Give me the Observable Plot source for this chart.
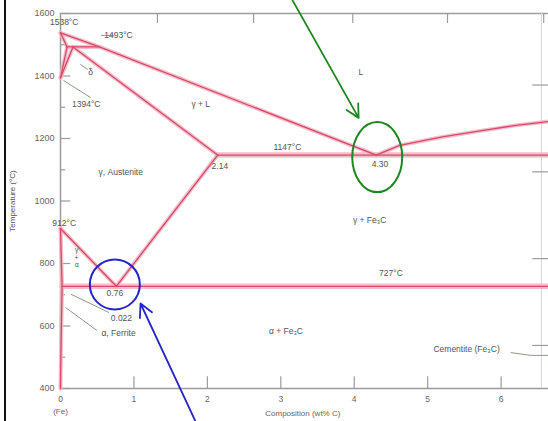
<!DOCTYPE html>
<html>
<head>
<meta charset="utf-8">
<script src="https://cdn.jsdelivr.net/npm/d3@7"></script>
<script src="https://cdn.jsdelivr.net/npm/@observablehq/plot@0.6"></script>
<style>
  html, body { margin: 0; padding: 0; background: #fff; overflow: hidden; }
  #wrap { position: relative; width: 548px; height: 421px; }
  #wrap::before { content: ""; position: absolute; left: 4px; top: 0; width: 2px; height: 421px; background: #111; }
  svg { display: block; font-family: "Liberation Sans", "DejaVu Sans", sans-serif; }
</style>
</head>
<body>
<div id="wrap"></div>
<script>
// ---- Axis ticks ----
const yTicksMajor = [400, 600, 800, 1000, 1200, 1400, 1600];
const yTicksMinor = [500, 700, 900, 1100, 1300, 1500];
const xTicks = [0, 1, 2, 3, 4, 5, 6];
const xTickLabels = ["0", "1", "2", "3", "4", "5", "6"];
const topTicks = [1.32, 2.63, 3.98, 5.27, 6.58];        // upper (at%) axis ticks, labels cropped
const fahrenheitTicks = [1000, 1500, 2000, 2500];       // right axis (°F) ticks
const rightFrameWt = 6.55;

// ---- Phase boundaries (wt% C, °C) ----
const liquidusLeft   = [[0, 1538], [0.53, 1493], [4.30, 1147]];
const liquidusRight  = [[4.30, 1147], [4.62, 1178], [5.2, 1205], [5.76, 1226], [6.2, 1242], [6.7, 1256]];
const deltaSolidus   = [[0, 1538], [0.09, 1493]];
const peritectic     = [[0.09, 1493], [0.53, 1493]];
const deltaGammaA    = [[0.09, 1493], [0, 1394]];
const deltaGammaB    = [[0.17, 1493], [0, 1394]];
const gammaSolidus   = [[0.17, 1493], [2.14, 1147]];
const eutectic       = [[2.14, 1147], [6.7, 1147]];
const acm            = [[2.14, 1147], [0.76, 727]];
const a3             = [[0, 912], [0.76, 727]];
const eutectoid      = [[0.022, 727], [6.7, 727]];
const alphaGamma     = [[0, 912], [0.022, 727]];
const alphaSolvus    = [[0.022, 727], [0.012, 600], [0.004, 480], [0, 400]];

const boundaries = {liquidusLeft, liquidusRight, deltaSolidus, peritectic, deltaGammaA, deltaGammaB,
  gammaSolidus, eutectic, acm, a3, eutectoid, alphaGamma, alphaSolvus};
const isotherms = ["eutectic", "eutectoid"];
const lineTable = Object.entries(boundaries).flatMap(([id, pts]) => pts.map(([wt, T]) => ({id, wt, T})));

// ---- Labels ----
const labelText   = ["1538°C", "1493°C", "δ", "1394°C", "L", "γ + L", "γ, Austenite", "1147°C", "2.14", "4.30",
                     "γ + Fe₃C", "912°C", "727°C", "0.76", "0.022", "α, Ferrite", "α + Fe₃C", "Cementite (Fe₃C)"];
const labelWt     = [0.05, 0.79, 0.41, 0.35, 4.09, 1.91, 0.82, 3.09, 2.17, 4.35, 4.21, 0.05, 4.5, 0.74, 0.83, 0.79, 3.07, 5.53];
const labelT      = [1571, 1530, 1411, 1309, 1411, 1309, 1091, 1171, 1110, 1116, 937, 928, 768, 704, 624, 576, 582, 525];
const labelAnchor = ["start", "start", "middle", "start", "middle", "middle", "middle", "middle", "start", "middle",
                     "middle", "start", "middle", "middle", "middle", "middle", "middle", "middle"];
const labels = labelText.map((text, i) => ({text, wt: labelWt[i], T: labelT[i], anchor: labelAnchor[i]}));

const smallText = ["γ", "+", "α"];
const smallWt = [0.22, 0.22, 0.22];
const smallT = [845, 820, 795];

// leader lines [wt1, T1, wt2, T2]
const leaders = [
  [0.55, 1530, 0.73, 1530],
  [0.27, 1437, 0.37, 1421],
  [0.04, 1386, 0.41, 1331],
  [0.14, 702, 0.66, 643],
  [0.07, 659, 0.50, 585],
  [6.13, 515, 6.40, 506],
  [6.40, 506, 6.66, 506]
];

// hand-drawn annotations (data coordinates)
const greenArrow = [{x1: 3.16, y1: 1642, x2: 4.06, y2: 1266}];
const blueArrow  = [{x1: 1.84, y1: 294, x2: 1.09, y2: 672}];
const blueCircle = [{wt: 0.74, T: 733}];
const greenEllipse = {wt: 4.32, T: 1139, rx: 25, ry: 35};

const axisColor = "#9c9c9c";
const txtColor = "#555";
const core = "#d44a68";
const halo = "#f5b3c2";

const chart = Plot.plot({
  width: 548,
  height: 421,
  x: {domain: [0, 6.7], range: [60, 552]},
  y: {domain: [400, 1600], range: [388, 13]},
  axis: null,
  style: {fontFamily: "Liberation Sans, DejaVu Sans, sans-serif", fontSize: "8.5px", background: "white"},
  marks: [
    // frame / axes
    Plot.ruleX([0], {y1: 400, y2: 1600, stroke: axisColor, strokeWidth: 1.5}),
    Plot.ruleY([400], {x1: 0, x2: 6.7, stroke: axisColor, strokeWidth: 1.5}),
    Plot.ruleY([1600], {x1: 0, x2: 6.7, stroke: axisColor, strokeWidth: 1.5}),
    Plot.ruleX([rightFrameWt], {y1: 400, y2: 1600, stroke: "#d8d8d8", strokeWidth: 1}),
    Plot.ruleY(yTicksMajor, {x1: 0, x2: 0.14, y: d => d, stroke: axisColor, strokeWidth: 1.2}),
    Plot.ruleY(yTicksMinor, {x1: 0, x2: 0.07, y: d => d, stroke: axisColor, strokeWidth: 1.2}),
    Plot.text(yTicksMajor, {x: 0, y: d => d, text: d => String(d), dx: -6, textAnchor: "end", fill: "#666", fontSize: 9}),
    Plot.ruleX(xTicks, {x: d => d, y1: 400, y2: 438, stroke: axisColor, strokeWidth: 1.2}),
    Plot.text(xTicks, {x: d => d, y: 400, text: (d, i) => xTickLabels[i], dy: 11, fill: "#666", fontSize: 8.5}),
    Plot.ruleX(topTicks, {x: d => d, y1: 1600, y2: 1568, stroke: axisColor, strokeWidth: 1.2}),
    Plot.ruleY(fahrenheitTicks, {y: f => (f - 32) * 5 / 9, x1: 6.43, x2: 6.7, stroke: axisColor, strokeWidth: 1.2}),
    Plot.text(["(Fe)"], {x: 0, y: 400, text: d => d, dy: 23, fill: "#666", fontSize: 8}),
    Plot.text(["Composition (wt% C)"], {x: 3.3, y: 400, text: d => d, dy: 25, fill: "#666", fontSize: 8}),
    Plot.text(["Temperature (°C)"], {x: 0, y: 1000, text: d => d, dx: -48, rotate: -90, fill: "#555", fontSize: 8}),

    // phase boundaries: halo + core
    Plot.line(lineTable, {x: "wt", y: "T", z: "id", stroke: halo, strokeWidth: d => isotherms.includes(d.id) ? 5.5 : 4, strokeOpacity: 0.85}),
    Plot.line(lineTable, {x: "wt", y: "T", z: "id", stroke: core, strokeWidth: 1.3}),

    // leaders
    Plot.link(leaders, {x1: d => d[0], y1: d => d[1], x2: d => d[2], y2: d => d[3], stroke: "#8a9a8a", strokeWidth: 1}),

    // labels
    Plot.text(labels, {x: "wt", y: "T", text: "text", textAnchor: d => d.anchor, fill: txtColor, fontSize: 8.5}),
    Plot.text(smallText, {x: (d, i) => smallWt[i], y: (d, i) => smallT[i], text: d => d, fill: txtColor, fontSize: 7}),

    // annotations
    Plot.dot(blueCircle, {x: "wt", y: "T", r: 25, stroke: "#2424c8", strokeWidth: 2, fill: "none"}),
    Plot.arrow(blueArrow, {x1: "x1", y1: "y1", x2: "x2", y2: "y2", stroke: "#2424c8", strokeWidth: 1.8, headLength: 12, headAngle: 55}),
    Plot.arrow(greenArrow, {x1: "x1", y1: "y1", x2: "x2", y2: "y2", stroke: "#1e861e", strokeWidth: 1.8, headLength: 12, headAngle: 55})
  ]
});

const sx = chart.scale("x"), sy = chart.scale("y");
d3.select(chart).append("ellipse")
  .attr("cx", sx.apply(greenEllipse.wt))
  .attr("cy", sy.apply(greenEllipse.T))
  .attr("rx", greenEllipse.rx)
  .attr("ry", greenEllipse.ry)
  .attr("fill", "none")
  .attr("stroke", "#1e861e")
  .attr("stroke-width", 2);

document.getElementById("wrap").appendChild(chart);
</script>
</body>
</html>
